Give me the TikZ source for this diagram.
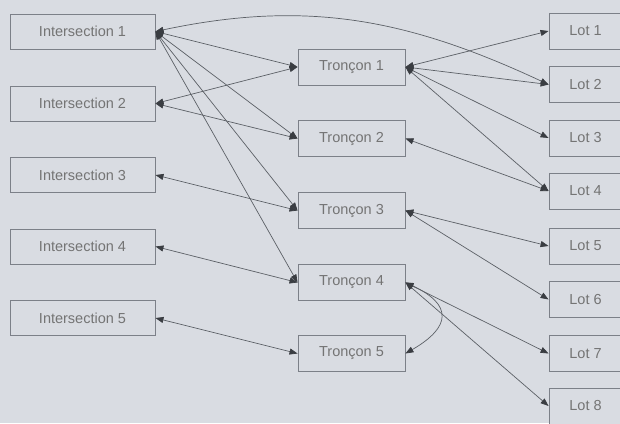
\documentclass[tikz,border=0pt]{standalone}
\usepackage{fontspec}
\setmainfont{Liberation Sans}
\usetikzlibrary{arrows.meta}
\definecolor{bg}{HTML}{D9DCE2}
\definecolor{txt}{HTML}{747474}
\definecolor{edge}{HTML}{7C8088}
\definecolor{ln}{HTML}{5C6066}
\definecolor{tip}{HTML}{3A3D42}
\begin{document}
\begin{tikzpicture}[x=1pt,y=-1pt,
  box/.style={draw=edge, line width=0.9pt, fill=bg, text=txt, inner sep=0pt,
    font=\fontsize{14.5}{17}\selectfont},
  ibox/.style={box, minimum width=145pt, minimum height=35pt},
  tbox/.style={box, minimum width=107pt, minimum height=36pt},
  lbox/.style={box, minimum width=73pt, minimum height=36pt},
  conn/.style={draw=ln, line width=0.7pt,
    {Triangle[length=8pt,width=6pt,fill=tip,color=tip]}-{Triangle[length=8pt,width=6pt,fill=tip,color=tip]}}]
\fill[bg] (0,0) rectangle (620,423);
\useasboundingbox (0,0) rectangle (620,423);
\clip (0,0) rectangle (620,423);
% Intersections
\node[ibox] (i1) at (82.5,31.5) {Intersection 1};
\node[ibox] (i2) at (82.5,103.5) {Intersection 2};
\node[ibox] (i3) at (82.5,175) {Intersection 3};
\node[ibox] (i4) at (82.5,246.5) {Intersection 4};
\node[ibox] (i5) at (82.5,318) {Intersection 5};
% Troncons
\node[tbox] (t1) at (351.5,67) {Tronçon 1};
\node[tbox] (t2) at (351.5,138.5) {Tronçon 2};
\node[tbox] (t3) at (351.5,210.5) {Tronçon 3};
\node[tbox] (t4) at (351.5,282.5) {Tronçon 4};
\node[tbox] (t5) at (351.5,353.5) {Tronçon 5};
% Lots
\node[lbox] (l1) at (585.5,31) {Lot 1};
\node[lbox] (l2) at (585.5,84.5) {Lot 2};
\node[lbox] (l3) at (585.5,138) {Lot 3};
\node[lbox] (l4) at (585.5,191) {Lot 4};
\node[lbox] (l5) at (585.5,246) {Lot 5};
\node[lbox] (l6) at (585.5,299.5) {Lot 6};
\node[lbox] (l7) at (585.5,353.5) {Lot 7};
\node[lbox] (l8) at (585.5,406) {Lot 8};
% connectors
\draw[conn] (i1.east) -- (t1.west);
\draw[conn] (i1.east) -- (t2.west);
\draw[conn] (i1.east) -- (t3.west);
\draw[conn] (i1.east) -- (t4.west);
\draw[conn] (i1.east) to[out=12,in=155] (l2.west);
\draw[conn] (i2.east) -- (t1.west);
\draw[conn] (i2.east) -- (t2.west);
\draw[conn] (i3.east) -- (t3.west);
\draw[conn] (i4.east) -- (t4.west);
\draw[conn] (i5.east) -- (t5.west);
\draw[conn] (t1.east) -- (l1.west);
\draw[conn] (t1.east) -- (l2.west);
\draw[conn] (t1.east) -- (l3.west);
\draw[conn] (t1.east) -- (l4.west);
\draw[conn] (t2.east) -- (l4.west);
\draw[conn] (t3.east) -- (l5.west);
\draw[conn] (t3.east) -- (l6.west);
\draw[conn] (t4.east) -- (l7.west);
\draw[conn] (t4.east) -- (l8.west);
\draw[conn] (t4.east) to[out=-25,in=30,looseness=1.9] (t5.east);
\end{tikzpicture}
\end{document}
